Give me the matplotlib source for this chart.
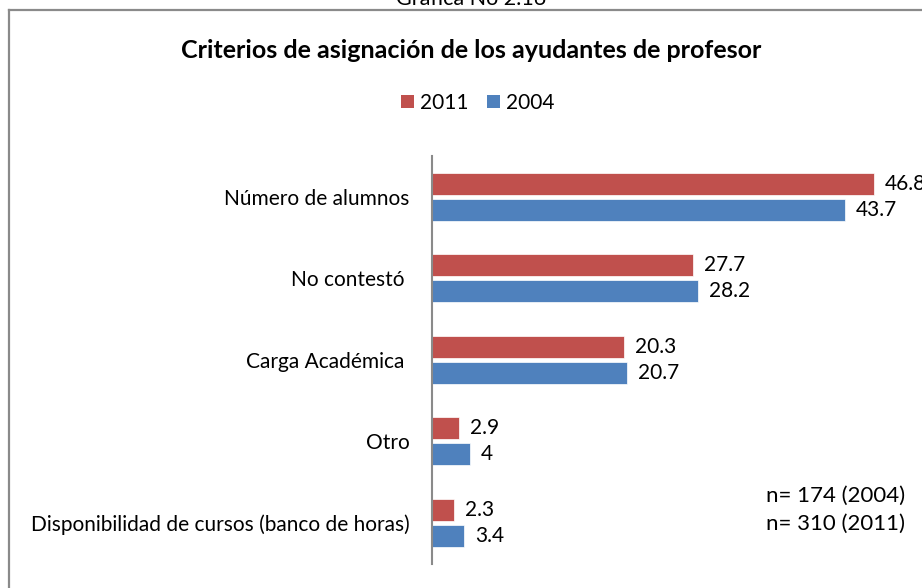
import matplotlib
matplotlib.use("Agg")
import matplotlib.pyplot as plt
from matplotlib.lines import Line2D
from matplotlib.patches import Patch

categories = ["Número de alumnos", "No contestó ", "Carga Académica ", "Otro", "Disponibilidad de cursos (banco de horas)"]
values_2011 = [46.8, 27.7, 20.3, 2.9, 2.3]
values_2004 = [43.7, 28.2, 20.7, 4, 3.4]
labels_2011 = ["46.8", "27.7", "20.3", "2.9", "2.3"]
labels_2004 = ["43.7", "28.2", "20.7", "4", "3.4"]
series_names = ["2011", "2004"]

RED = "#C0504D"
BLUE = "#4F81BD"
FONT = ["Lato", "DejaVu Sans"]
plt.rcParams['font.family'] = FONT
FS = 15

W, H = 922, 588
fig = plt.figure(figsize=(W / 100, H / 100), dpi=100)
fig.patch.set_facecolor("white")

# outer chart border (only top and left visible in crop)
fig.add_artist(Line2D([9 / W, 9 / W], [0, 1 - 10 / H], transform=fig.transFigure, color="#8a8a8a", lw=1.6))
fig.add_artist(Line2D([9 / W, 1], [1 - 10 / H, 1 - 10 / H], transform=fig.transFigure, color="#8a8a8a", lw=1.6))

# header text cut off at top
fig.text(471 / W, 1 + 1 / H, "Gráfica No 2.16", ha="center", va="center", fontsize=15.5)

fig.text(471 / W, 1 - 50 / H, "Criterios de asignación de los ayudantes de profesor",
         ha="center", va="center", fontsize=18, fontweight="bold")

ax_left, ax_top, ax_bottom = 432, 156, 563.5
ax_w = 50 * 9.44
ax = fig.add_axes([ax_left / W, (H - ax_bottom) / H, ax_w / W, (ax_bottom - ax_top) / H])
ax.set_xlim(0, 50)
ax.set_ylim(len(categories) - 0.5, -0.5)

ys = list(range(len(categories)))
bh = 0.27
off = 0.16
ax.barh([y - off for y in ys], values_2011, height=bh, color=RED, edgecolor="white", linewidth=0.5)
ax.barh([y + off for y in ys], values_2004, height=bh, color=BLUE, edgecolor="white", linewidth=0.5)

for y, v, t in zip(ys, values_2011, labels_2011):
    ax.annotate(t, (v, y - off), xytext=(11, 0), textcoords="offset pixels", va="center", ha="left", fontsize=FS, annotation_clip=False)
for y, v, t in zip(ys, values_2004, labels_2004):
    ax.annotate(t, (v, y + off), xytext=(11, 0), textcoords="offset pixels", va="center", ha="left", fontsize=FS, annotation_clip=False)

ax.set_yticks(ys)
ax.set_yticklabels(categories, fontsize=FS)
ax.tick_params(axis="y", length=0, pad=16)
ax.set_xticks([])
for s in ["top", "right", "bottom"]:
    ax.spines[s].set_visible(False)
ax.spines["left"].set_color("#8a8a8a")
ax.spines["left"].set_linewidth(1.5)
ax.patch.set_alpha(0)

handles = [Patch(facecolor=RED), Patch(facecolor=BLUE)]
fig.legend(handles, series_names, loc="center", bbox_to_anchor=(478 / W, 1 - 103 / H), ncol=2,
           frameon=False, fontsize=FS, handlelength=0.6, handleheight=0.6, handletextpad=0.3, columnspacing=0.9)

fig.text(905 / W, 1 - 496 / H, "n= 174 (2004)", ha="right", va="center", fontsize=16)
fig.text(905 / W, 1 - 524 / H, "n= 310 (2011)", ha="right", va="center", fontsize=16)

fig.savefig("out.png", dpi=100, facecolor="white")
